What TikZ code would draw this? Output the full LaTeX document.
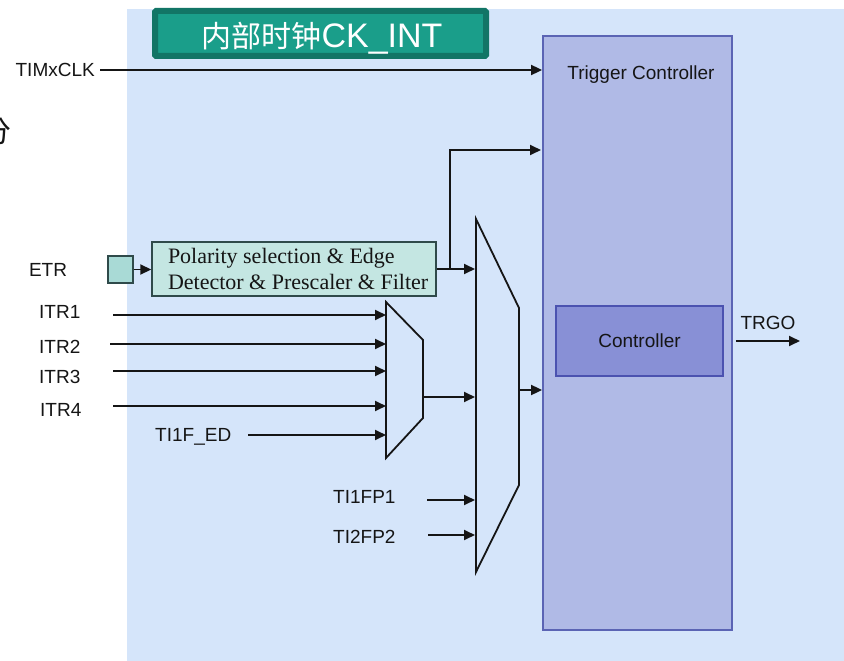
\documentclass[tikz,border=0pt]{standalone}
\usepackage{fontspec}
\setmainfont{Liberation Sans}
\newfontfamily\cjk{Noto Sans CJK SC}
\newfontfamily\serifA{Liberation Serif}
\usetikzlibrary{arrows.meta}
\definecolor{bgblue}{HTML}{D5E5FA}
\definecolor{tealdark}{HTML}{127566}
\definecolor{tealfill}{HTML}{1A9E8A}
\definecolor{lav}{HTML}{B0BAE6}
\definecolor{lavborder}{HTML}{5B64B4}
\definecolor{ctrlfill}{HTML}{8890D6}
\definecolor{ctrlborder}{HTML}{4B52B0}
\definecolor{filtfill}{HTML}{C4E6E2}
\definecolor{etrfill}{HTML}{A9DAD6}
\definecolor{ink}{HTML}{151515}
\definecolor{boxline}{HTML}{2F4A4A}
\begin{document}
\begin{tikzpicture}[x=1pt,y=-1pt,
  sig/.style={draw=ink, line width=1.8pt, -{Triangle[length=11pt,width=10pt]}},
  lbl/.style={font=\fontsize{19}{22}\selectfont, text=ink, inner sep=0pt},
  muxshape/.style={draw=ink, line width=1.8pt, line join=miter}]
\useasboundingbox (0,0) rectangle (844,661);
\fill[white] (0,0) rectangle (844,661);
\fill[bgblue] (127,9) rectangle (844,661);

% partial character at left edge
\node[font=\cjk\fontsize{30}{30}\selectfont, text=ink, inner sep=0pt] (fen) at (-3,131) {分};

% title
\node[draw=tealdark, line width=6pt, fill=tealfill, rounded corners=1pt,
      minimum width=331, minimum height=45, inner sep=0pt] (title) at (320.5,33.5) {};
\node[inner sep=0pt, text=white, anchor=base] (titletext) at (322,48)
  {{\cjk\fontsize{30}{30}\selectfont 内部时钟}{\fontsize{34}{34}\selectfont CK\_INT}};

% trigger controller
\node[draw=lavborder, line width=1.8pt, fill=lav, minimum width=189, minimum height=594, inner sep=0pt] (tc) at (637.5,333) {};
\node[lbl] (tctext) at (641,75) {Trigger Controller};
\node[draw=ctrlborder, line width=1.8pt, fill=ctrlfill, minimum width=167, minimum height=70, inner sep=0pt, font=\fontsize{19}{22}\selectfont, text=ink] (ctrl) at (639.5,341) {Controller};

% TIMxCLK
\node[lbl, anchor=east] (clk) at (95,70) {TIMxCLK};
\draw[sig] ([xshift=5pt]clk.east) -- (tc.west |- clk.east);

% TRGO
\coordinate (trgoend) at (800,341);
\node[lbl] (trgo) at (768,323) {TRGO};
\draw[sig] ([xshift=3pt]tc.east |- ctrl.center) -- (trgoend);

% ETR and filter
\node[lbl] (etrl) at (48,270) {ETR};
\node[draw=boxline, line width=1.4pt, fill=etrfill, minimum width=25, minimum height=27, inner sep=0pt] (etr) at (120.5,269.5) {};
\node[draw=boxline, line width=1.4pt, fill=filtfill, minimum width=284, minimum height=54,
      inner xsep=16pt, inner ysep=0pt, align=left, text=ink,
      font=\serifA\fontsize{22}{26}\selectfont] (filt) at (294,269)
  {\makebox[252pt][l]{Polarity selection \& Edge}\\\makebox[252pt][l]{Detector \& Prescaler \& Filter}};
\draw[sig] (etr.east) -- (filt.west |- etr.east);

% multiplexers
\coordinate (sA) at (386,302); \coordinate (sB) at (423,340);
\coordinate (sC) at (423,418); \coordinate (sD) at (386,458);
\draw[muxshape] (sA) -- (sB) -- (sC) -- (sD) -- cycle;
\coordinate (bA) at (476,219); \coordinate (bB) at (519,308);
\coordinate (bC) at (519,485); \coordinate (bD) at (476,572);
\draw[muxshape] (bA) -- (bB) -- (bC) -- (bD) -- cycle;

% filter outputs
\coordinate (fj) at (450,269);
\coordinate (fin) at (475,269);
\coordinate (ftop) at (450,150);
\coordinate (ftc) at (541,150);
\draw[sig] (filt.east) -- (fin);
\draw[sig] (fj) -- (ftop) -- (ftc);

% ITR inputs
\node[lbl, anchor=west] (itr1) at (39,312) {ITR1};
\node[lbl, anchor=west] (itr2) at (39,347) {ITR2};
\node[lbl, anchor=west] (itr3) at (39,377) {ITR3};
\node[lbl, anchor=west] (itr4) at (40,410) {ITR4};
\node[lbl, anchor=west] (tied) at (155,437) {TI1F\_ED};
\coordinate (i1s) at (113,315); \coordinate (i1e) at (386,315);
\coordinate (i2s) at (110,344); \coordinate (i2e) at (386,344);
\coordinate (i3s) at (113,371); \coordinate (i3e) at (386,371);
\coordinate (i4s) at (113,406); \coordinate (i4e) at (386,406);
\coordinate (i5s) at (248,435); \coordinate (i5e) at (386,435);
\draw[sig] (i1s) -- (i1e);
\draw[sig] (i2s) -- (i2e);
\draw[sig] (i3s) -- (i3e);
\draw[sig] (i4s) -- (i4e);
\draw[sig] (i5s) -- (i5e);

% small mux output
\coordinate (so) at (423,397); \coordinate (bi2) at (475,397);
\draw[sig] (so) -- (bi2);

% TI1FP1 / TI2FP2
\node[lbl, anchor=west] (tfp1) at (333,497) {TI1FP1};
\node[lbl, anchor=west] (tfp2) at (333,537) {TI2FP2};
\coordinate (t1s) at (427,500); \coordinate (t1e) at (475,500);
\coordinate (t2s) at (428,535); \coordinate (t2e) at (475,535);
\draw[sig] (t1s) -- (t1e);
\draw[sig] (t2s) -- (t2e);

% big mux output
\coordinate (bo) at (519,390);
\draw[sig] (bo) -- (tc.west |- bo);
\end{tikzpicture}
\end{document}
